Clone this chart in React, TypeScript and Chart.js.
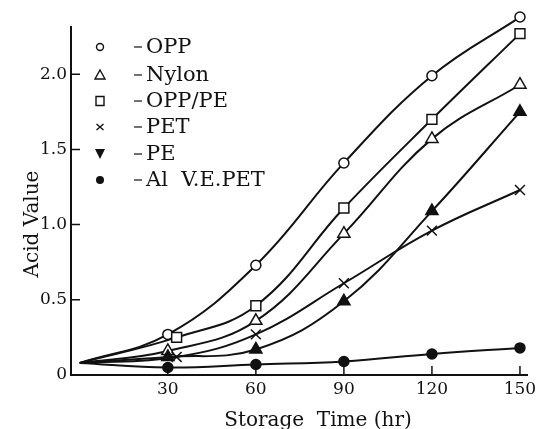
import React, { useEffect, useRef } from 'react';
import { Chart, registerables } from 'chart.js';

Chart.register(...registerables);

// ---- data ----
const times = [0, 30, 60, 90, 120, 150];
const shiftedTimes = [0, 33, 60, 90, 120, 150]; // points drawn slightly right of 30 in the original
const oppValues = [0.08, 0.27, 0.73, 1.41, 1.99, 2.38];
const nylonValues = [0.08, 0.16, 0.36, 0.94, 1.57, 1.93];
const oppPeValues = [0.08, 0.25, 0.46, 1.11, 1.7, 2.27];
const petValues = [0.08, 0.12, 0.27, 0.61, 0.96, 1.23];
const peValues = [0.08, 0.12, 0.17, 0.49, 1.09, 1.75];
const alValues = [0.08, 0.05, 0.07, 0.09, 0.14, 0.18];

const xTicks = [30, 60, 90, 120, 150];
const yTicks = [0, 0.5, 1.0, 1.5, 2.0];
const yAxisTop = 2.32; // where the drawn vertical axis line ends
const legendLabels = ['OPP', 'Nylon', 'OPP/PE', 'PET', 'PE', 'Al  V.E.PET'];
const xTitle = 'Storage  Time (hr)';
const yTitle = 'Acid Value';

const INK = '#111';
const FONT = "'DejaVu Serif', 'Liberation Serif', serif";

type Shape = 'circleOpen' | 'triangleOpen' | 'squareOpen' | 'cross' | 'triangleDown' | 'circleFilled';
const legendShapes: Shape[] = ['circleOpen', 'triangleOpen', 'squareOpen', 'cross', 'triangleDown', 'circleFilled'];

function drawMarker(ctx: CanvasRenderingContext2D, shape: Shape, x: number, y: number) {
  ctx.save();
  ctx.strokeStyle = INK;
  ctx.fillStyle = INK;
  ctx.lineWidth = 1.4;
  ctx.beginPath();
  if (shape === 'circleOpen') {
    ctx.arc(x, y, 3.5, 0, Math.PI * 2);
    ctx.fillStyle = '#fff';
    ctx.fill();
    ctx.stroke();
  } else if (shape === 'circleFilled') {
    ctx.arc(x, y, 4, 0, Math.PI * 2);
    ctx.fill();
  } else if (shape === 'squareOpen') {
    ctx.rect(x - 4, y - 4.5, 8, 9);
    ctx.stroke();
  } else if (shape === 'triangleOpen') {
    ctx.moveTo(x, y - 5);
    ctx.lineTo(x + 5, y + 4);
    ctx.lineTo(x - 5, y + 4);
    ctx.closePath();
    ctx.stroke();
  } else if (shape === 'triangleDown') {
    ctx.moveTo(x - 5, y - 5);
    ctx.lineTo(x + 5, y - 5);
    ctx.lineTo(x, y + 5);
    ctx.closePath();
    ctx.fill();
  } else if (shape === 'cross') {
    ctx.moveTo(x - 3.5, y - 3);
    ctx.lineTo(x + 3.5, y + 3);
    ctx.moveTo(x + 3.5, y - 3);
    ctx.lineTo(x - 3.5, y + 3);
    ctx.stroke();
  }
  ctx.restore();
}

const decorPlugin = {
  id: 'decor',
  beforeDraw(chart: any) {
    const { ctx, width, height } = chart;
    ctx.save();
    ctx.fillStyle = '#fff';
    ctx.fillRect(0, 0, width, height);
    ctx.restore();
  },
  afterDraw(chart: any) {
    const { ctx, scales } = chart;
    const xs = scales.x;
    const ys = scales.y;
    const area = chart.chartArea;
    ctx.save();
    // vertical axis line (ends below the top of the plotting area)
    ctx.strokeStyle = INK;
    ctx.lineWidth = 2;
    ctx.beginPath();
    ctx.moveTo(area.left, ys.getPixelForValue(yAxisTop));
    ctx.lineTo(area.left, area.bottom + 1);
    ctx.stroke();

    // inward tick marks
    ctx.lineWidth = 1.5;
    ctx.beginPath();
    yTicks.forEach((v) => {
      if (v === 0) return;
      const py = ys.getPixelForValue(v);
      ctx.moveTo(area.left, py);
      ctx.lineTo(area.left + 9, py);
    });
    xTicks.forEach((v) => {
      const px = xs.getPixelForValue(v);
      ctx.moveTo(px, area.bottom);
      ctx.lineTo(px, area.bottom - 9);
    });
    ctx.stroke();

    // legend
    const rowsY = [47, 75, 101, 127, 154, 180];
    ctx.fillStyle = INK;
    ctx.font = `21px ${FONT}`;
    ctx.textBaseline = 'middle';
    ctx.textAlign = 'left';
    legendLabels.forEach((label, i) => {
      const y = rowsY[i];
      drawMarker(ctx, legendShapes[i], 100, y);
      ctx.beginPath();
      ctx.lineWidth = 1.2;
      ctx.moveTo(134, y);
      ctx.lineTo(142, y);
      ctx.stroke();
      ctx.fillText(label, 146, y + 1);
    });

    // axis titles
    ctx.font = `20px ${FONT}`;
    ctx.textAlign = 'center';
    ctx.textBaseline = 'alphabetic';
    ctx.fillText(xTitle, 318, 426);
    ctx.translate(38, 224);
    ctx.rotate(-Math.PI / 2);
    ctx.fillText(yTitle, 0, 0);
    ctx.restore();
  },
};

function toPoints(xs: number[], ys: number[]) {
  return xs.map((x, i) => ({ x, y: ys[i] }));
}

function makeDataset(label: string, xs: number[], ys: number[], style: string, radius: number, fill: string) {
  return {
    label,
    data: toPoints(xs, ys),
    borderColor: INK,
    borderWidth: 2,
    pointStyle: style,
    pointRadius: ys.map((_, i) => (i === 0 ? 0 : radius)),
    pointBackgroundColor: fill,
    pointBorderColor: INK,
    pointBorderWidth: 1.5,
    tension: 0.4,
    fill: false,
    clip: false,
  };
}

export default function App() {
  const ref = useRef<HTMLCanvasElement | null>(null);

  useEffect(() => {
    document.body.style.margin = '0';
    if (!ref.current) return;
    const chart = new Chart(ref.current, {
      type: 'line',
      data: {
        datasets: [
          makeDataset('Al V.E.PET', times, alValues, 'circle', 5, INK),
          makeDataset('PE', times, peValues, 'triangle', 7, INK),
          makeDataset('PET', shiftedTimes, petValues, 'crossRot', 7, '#fff'),
          makeDataset('Nylon', times, nylonValues, 'triangle', 7, '#fff'),
          makeDataset('OPP/PE', shiftedTimes, oppPeValues, 'rect', 7, '#fff'),
          makeDataset('OPP', times, oppValues, 'circle', 5, '#fff'),
        ] as any,
      },
      options: {
        animation: false,
        responsive: false,
        events: [],
        layout: { padding: { top: 10, right: 17, left: 0, bottom: 0 } },
        plugins: {
          legend: { display: false },
          tooltip: { enabled: false },
        },
        scales: {
          x: {
            type: 'linear',
            min: -3,
            max: 152.4,
            afterBuildTicks: (s: any) => {
              s.ticks = xTicks.map((v) => ({ value: v }));
            },
            afterFit: (s: any) => {
              s.height = 54;
            },
            grid: { display: false, drawTicks: false },
            border: { display: true, color: INK, width: 2 },
            ticks: {
              color: INK,
              padding: 4,
              font: { family: FONT, size: 17 },
              maxRotation: 0,
              autoSkip: false,
              callback: (v: any) => String(v),
            },
          },
          y: {
            type: 'linear',
            min: 0,
            max: 2.399,
            afterBuildTicks: (s: any) => {
              s.ticks = yTicks.map((v) => ({ value: v }));
            },
            afterFit: (s: any) => {
              s.width = 71;
            },
            grid: { display: false, drawTicks: false },
            border: { display: false },
            ticks: {
              color: INK,
              padding: 4,
              font: { family: FONT, size: 17 },
              autoSkip: false,
              callback: (v: any) => (v === 0 ? '0' : Number(v).toFixed(1)),
            },
          },
        },
      } as any,
      plugins: [decorPlugin],
    });
    return () => chart.destroy();
  }, []);

  return (
    <div style={{ width: 544, height: 429 }}>
      <canvas ref={ref} width={544} height={429} style={{ display: 'block' }} />
    </div>
  );
}
